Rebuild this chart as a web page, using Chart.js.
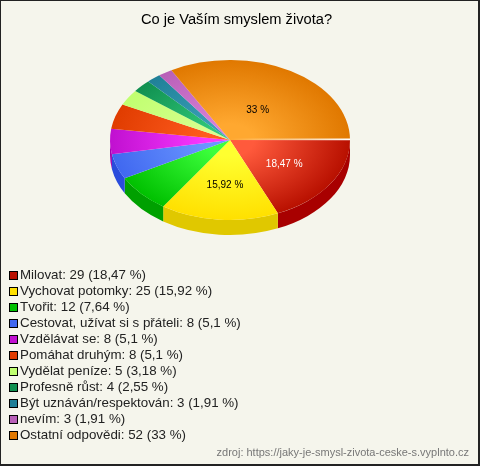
<!DOCTYPE html>
<html>
<head>
<meta charset="utf-8">
<title>Co je Vaším smyslem života?</title>
<script src="https://cdn.jsdelivr.net/npm/chart.js@4"></script>
<style>
    html, body { margin: 0; padding: 0; }
    body { width: 480px; height: 466px; overflow: hidden; background: #f5f5ec; font-family: "Liberation Sans", Arial, sans-serif; }
    .frame { position: absolute; left: 0; top: 0; width: 480px; height: 466px; box-sizing: border-box; border-style: solid; border-color: #222; border-width: 1px 2px 2px 1px; pointer-events: none; }
    canvas { position: absolute; left: 0; top: 0; }
    .title { position: absolute; left: 0; top: 11px; width: 473px; text-align: center; font-size: 14.67px; color: #000; }
    .legend { position: absolute; left: 9px; top: 267px; font-size: 13.33px; line-height: 16.03px; color: #222; white-space: nowrap; }
    .legend i { display: inline-block; width: 7px; height: 7px; border: 1px solid #000; margin-right: 2px; vertical-align: -0.5px; }
    .source { position: absolute; right: 11px; top: 446px; font-size: 11px; color: #777; }
</style>
</head>
<body>
<canvas id="myChart" width="480" height="466"></canvas>
<div class="title"></div>
<div class="legend"></div>
<div class="source">zdroj: https://jaky-je-smysl-zivota-ceske-s.vyplnto.cz</div>
<div class="frame"></div>
<script>
const chartTitle = "Co je Vaším smyslem života?";
const labels = ["Milovat", "Vychovat potomky", "Tvořit", "Cestovat, užívat si s přáteli", "Vzdělávat se", "Pomáhat druhým", "Vydělat peníze", "Profesně růst", "Být uznáván/respektován", "nevím", "Ostatní odpovědi"];
const counts = [29, 25, 12, 8, 8, 8, 5, 4, 3, 3, 52];
const percents = ["18,47", "15,92", "7,64", "5,1", "5,1", "5,1", "3,18", "2,55", "1,91", "1,91", "33"];

// slice shading: centre colour, rim colour, side wall colour
const innerColors = ["#ff5a3c", "#ffff30", "#3cff3c", "#6a96ff", "#f838ff", "#ff5c20", "#d8ff90", "#30c878", "#3aa0b8", "#d880d8", "#ffa830"];
const outerColors = ["#b81000", "#ffe000", "#00c000", "#4068f0", "#c010d0", "#e03c00", "#c0ff70", "#109050", "#208098", "#b860b8", "#e07800"];
const sideColors = ["#a80000", "#e0c800", "#00a000", "#2a4cdc", "#a000b0", "#c03000", "#a0d060", "#087040", "#106070", "#904090", "#c06000"];
const labelColors = ["#fff", "#000", null, null, null, null, null, null, null, null, "#000"];
const labelRadius = [0.53, 0.56, 0, 0, 0, 0, 0, 0, 0, 0, 0.44];

const squash = 2 / 3;
const depth = 15;

const pie3d = {
    id: "pie3d",
    beforeDatasetsDraw(chart) {
        const ctx = chart.ctx;
        const arcs = chart.getDatasetMeta(0).data;
        // side wall, only the front half of the ellipse can be seen
        arcs.forEach((arc, i) => {
            const start = Math.max(arc.startAngle, 0);
            const end = Math.min(arc.endAngle, Math.PI);
            if (end <= start) return;
            const rx = arc.outerRadius, ry = rx * squash;
            ctx.beginPath();
            ctx.ellipse(arc.x, arc.y, rx, ry, 0, start, end);
            ctx.ellipse(arc.x, arc.y + depth, rx, ry, 0, end, start, true);
            ctx.closePath();
            ctx.fillStyle = sideColors[i];
            ctx.fill();
        });
        // the slices themselves are drawn flattened
        const first = arcs[0];
        ctx.save();
        ctx.translate(first.x, first.y);
        ctx.scale(1, squash);
        ctx.translate(-first.x, -first.y);
    },
    afterDatasetsDraw(chart) {
        const ctx = chart.ctx;
        ctx.restore();
        const arcs = chart.getDatasetMeta(0).data;
        const first = arcs[0];

        // light seam between the last and the first slice
        const seam = ctx.createLinearGradient(first.x, 0, first.x + first.outerRadius, 0);
        seam.addColorStop(0, "rgba(255,255,255,0)");
        seam.addColorStop(1, "rgba(255,255,255,1)");
        ctx.strokeStyle = seam;
        ctx.lineWidth = 1.6;
        ctx.beginPath();
        ctx.moveTo(first.x, first.y - 0.6);
        ctx.lineTo(first.x + first.outerRadius, first.y - 0.6);
        ctx.stroke();

        ctx.font = "10px 'Liberation Sans', Arial, sans-serif";
        ctx.textAlign = "center";
        ctx.textBaseline = "middle";
        arcs.forEach((arc, i) => {
            if (!labelColors[i]) return;
            const mid = (arc.startAngle + arc.endAngle) / 2;
            const r = arc.outerRadius * labelRadius[i];
            ctx.fillStyle = labelColors[i];
            ctx.fillText(percents[i] + " %", arc.x + Math.cos(mid) * r + 1, arc.y + Math.sin(mid) * r * squash + 1);
        });
    }
};

function sliceFill(context) {
    const i = context.dataIndex;
    const area = context.chart.chartArea;
    if (!area) return outerColors[i];
    const cx = (area.left + area.right) / 2, cy = (area.top + area.bottom) / 2;
    const g = context.chart.ctx.createRadialGradient(cx, cy, 0, cx, cy, 120);
    g.addColorStop(0.2, innerColors[i]);
    g.addColorStop(1, outerColors[i]);
    return g;
}

new Chart(document.getElementById("myChart"), {
    type: "pie",
    data: {
        labels: labels,
        datasets: [{ data: counts, backgroundColor: sliceFill, borderWidth: 0, radius: 120 }]
    },
    plugins: [pie3d],
    options: {
        responsive: false,
        animation: false,
        rotation: 90,
        layout: { padding: { left: 110, right: 130, top: 20, bottom: 206 } },
        plugins: {
            legend: { display: false },
            title: { display: false },
            tooltip: { enabled: false }
        }
    }
});

document.querySelector(".title").textContent = chartTitle;

// legend is one column of plain rows
const legendBox = document.querySelector(".legend");
labels.forEach((name, i) => {
    legendBox.innerHTML += `<div><i style="background:${outerColors[i]}"></i>${name}: ${counts[i]} (${percents[i]} %)</div>`;
});
</script>
</body>
</html>
